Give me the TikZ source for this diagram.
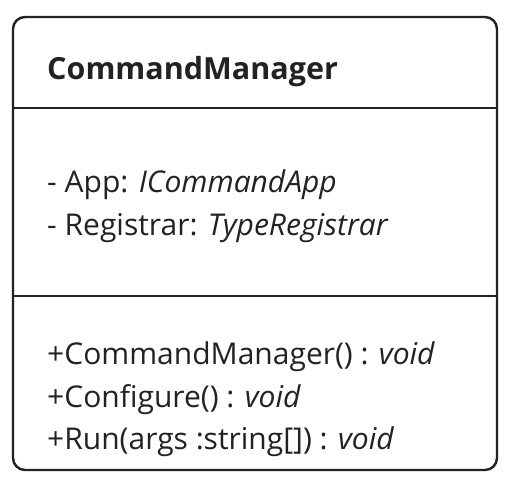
\documentclass[tikz,border=0pt]{standalone}
\usepackage{fontspec}
\setmainfont{Open Sans}
\usepackage{xcolor}
\usetikzlibrary{positioning}

\definecolor{umlink}{HTML}{222222}

\begin{document}
\begin{tikzpicture}[
  x=1pt, y=1pt,
  classbox/.style={draw=umlink, line width=2.4pt, rounded corners=12pt},
  divider/.style={draw=umlink, line width=2.4pt},
  title/.style={anchor=base west, inner sep=0pt, text=umlink, font=\fontsize{30.5}{36}\selectfont\bfseries},
  member/.style={anchor=base west, inner sep=0pt, text=umlink, font=\fontsize{30}{36}\selectfont}
]
  \useasboundingbox (0,0) rectangle (514,496);
  \draw[classbox] (13,26) rectangle (497,479);
  \draw[divider] (13,388) -- (497,388);
  \draw[divider] (13,200) -- (497,200);

  \node[title] (name) at (47,416) {CommandManager};

  \node[member] (app) at (47,303) {- App: \textit{ICommandApp}};
  \node[member] (reg) at (47,260) {- Registrar: \textit{TypeRegistrar}};

  \node[member] (ctor) at (47,132) {+CommandManager() : \textit{void}};
  \node[member] (conf) at (47,89) {+Configure() : \textit{void}};
  \node[member] (run) at (47,47) {+Run(args :string[]) : \textit{void}};
\end{tikzpicture}
\end{document}
